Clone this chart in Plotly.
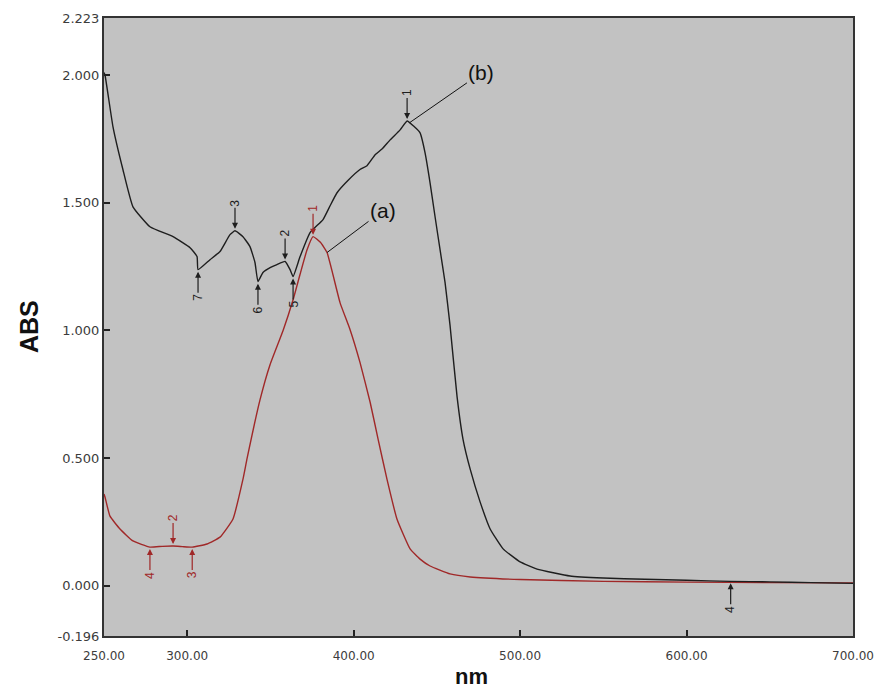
import numpy as np
import plotly.graph_objects as go

# Curve (b) - black
black_nm = [250, 250.6, 255.4, 261.4, 267.4, 277.6, 291.5, 301.7, 305.9, 306.5, 313.7, 319.7,
            325.7, 328.7, 333.5, 337.7, 340.7, 342.5, 345.5, 349.8, 353.9, 358.8, 361.8, 363.6,
            367.8, 373.8, 381.6, 386, 390, 397, 403.8, 408, 412.9, 417, 421.9, 427.9, 432.1,
            436, 439.9, 442.9, 445.9, 448.9, 451.9, 454.9, 457.9, 462.1, 465.7, 470, 476, 482,
            489.8, 500, 510.2, 530, 549.9, 575, 600, 626.5, 650, 675, 700]
black_abs = [2.01, 2.00, 1.797, 1.629, 1.484, 1.406, 1.367, 1.324, 1.289, 1.238, 1.277, 1.309,
             1.375, 1.39, 1.367, 1.328, 1.266, 1.191, 1.227, 1.246, 1.258, 1.27, 1.238, 1.211,
             1.289, 1.383, 1.434, 1.49, 1.539, 1.59, 1.63, 1.645, 1.688, 1.71, 1.746, 1.785, 1.82,
             1.80, 1.773, 1.695, 1.578, 1.445, 1.316, 1.188, 1.02, 0.742, 0.574, 0.457, 0.328, 0.223,
             0.145, 0.094, 0.066, 0.039, 0.031, 0.026, 0.022, 0.018, 0.016, 0.013, 0.010]

# Curve (a) - red
red_nm = [250, 250.6, 253.6, 259.6, 267.4, 277.6, 285, 291.5, 297, 303, 311.9, 319.7, 327.5,
          333.5, 336, 343.8, 349.8, 357.6, 363.6, 367.8, 372, 375.6, 380, 384, 391.8, 397.8,
          403.8, 409.9, 414.7, 420, 426, 433.9, 439.9, 445.9, 457.9, 470, 500, 550, 600, 650, 700]
red_abs = [0.36, 0.348, 0.273, 0.223, 0.176, 0.152, 0.155, 0.156, 0.154, 0.152, 0.164, 0.191,
           0.262, 0.418, 0.50, 0.73, 0.867, 1.0, 1.12, 1.22, 1.316, 1.367, 1.345, 1.305, 1.109,
           1.004, 0.875, 0.719, 0.574, 0.418, 0.262, 0.145, 0.105, 0.078, 0.047, 0.035, 0.025,
           0.018, 0.015, 0.013, 0.012]

# Peak / valley markers
black_peak_nm = [432.1, 328.7, 358.8]
black_peak_lbl = ["1", "3", "2"]
black_valley_nm = [306.5, 342.5, 363.6, 626.5]
black_valley_lbl = ["7", "6", "5", "4"]
red_peak_nm = [375.6, 291.5]
red_peak_lbl = ["1", "2"]
red_valley_nm = [277.6, 303.0]
red_valley_lbl = ["4", "3"]

x_ticks = [250, 300, 400, 500, 600, 700]
x_ticktext = ["250.00", "300.00", "400.00", "500.00", "600.00", "700.00"]
y_ticks = [-0.196, 0.0, 0.5, 1.0, 1.5, 2.0, 2.223]
y_ticktext = ["-0.196", "0.000", "0.500", "1.000", "1.500", "2.000", "2.223"]

BLACK = "#1e1e1e"
RED = "#a02828"
FONT = "Liberation Sans, Arial"
TICKFONT = "DejaVu Sans, Verdana"

fig = go.Figure()
fig.add_trace(go.Scatter(x=red_nm, y=red_abs, mode="lines",
                         line=dict(color=RED, width=1.4, shape="spline", smoothing=0.4),
                         name="(a)", showlegend=False))
fig.add_trace(go.Scatter(x=black_nm, y=black_abs, mode="lines",
                         line=dict(color=BLACK, width=1.4, shape="spline", smoothing=0.4),
                         name="(b)", showlegend=False))

annotations = []


def add_marks(nms, lbls, xs, ys, color, offset):
    for nm, lbl in zip(nms, lbls):
        yv = float(np.interp(nm, xs, ys))
        annotations.append(dict(
            x=nm, y=yv, xref="x", yref="y", text=lbl, textangle=-90,
            showarrow=True, ax=0, ay=offset, arrowhead=2, arrowsize=1,
            arrowwidth=1.2, arrowcolor=color, standoff=2,
            font=dict(size=12, color=color, family=FONT)))


add_marks(black_peak_nm, black_peak_lbl, black_nm, black_abs, BLACK, -28)
add_marks(black_valley_nm, black_valley_lbl, black_nm, black_abs, BLACK, 28)
add_marks(red_peak_nm, red_peak_lbl, red_nm, red_abs, RED, -28)
add_marks(red_valley_nm, red_valley_lbl, red_nm, red_abs, RED, 28)

# curve labels
annotations.append(dict(x=384, y=float(np.interp(384, red_nm, red_abs)), xref="x", yref="y",
                        text="(a)", showarrow=True, ax=56, ay=-42, arrowhead=0,
                        arrowwidth=1, arrowcolor="#111",
                        font=dict(size=21, color="#111", family=FONT)))
annotations.append(dict(x=433.5, y=float(np.interp(433.5, black_nm, black_abs)), xref="x", yref="y",
                        text="(b)", showarrow=True, ax=72, ay=-50, arrowhead=0,
                        arrowwidth=1, arrowcolor="#111",
                        font=dict(size=21, color="#111", family=FONT)))

# axis titles
annotations.append(dict(x=-0.1, y=0.5, xref="paper", yref="paper", text="<b>ABS</b>",
                        textangle=-90, showarrow=False, xanchor="center", yanchor="middle",
                        font=dict(size=25, color="#111", family=FONT)))
annotations.append(dict(x=0.49, y=-0.066, xref="paper", yref="paper", text="<b>nm</b>",
                        showarrow=False, xanchor="center", yanchor="middle",
                        font=dict(size=22, color="#111", family=FONT)))

fig.update_layout(
    width=875, height=693,
    margin=dict(l=104, r=22, t=18, b=57, autoexpand=False),
    paper_bgcolor="white", plot_bgcolor="#c2c2c2",
    annotations=annotations,
    font=dict(family=FONT, color="#333"),
)
fig.update_xaxes(range=[250, 700], tickvals=x_ticks, ticktext=x_ticktext,
                 ticks="inside", ticklen=6, tickwidth=1.5, tickcolor="#222",
                 showgrid=False, zeroline=False, showline=True, linecolor="#333",
                 linewidth=2, mirror=True, automargin=False, ticklabelstandoff=8,
                 ticklabeloverflow="allow",
                 tickfont=dict(size=12, color="#3c3c3c", family=TICKFONT))
fig.update_yaxes(range=[-0.196, 2.223], tickvals=y_ticks, ticktext=y_ticktext,
                 ticks="inside", ticklen=6, tickwidth=1.5, tickcolor="#222",
                 showgrid=False, zeroline=False, showline=True, linecolor="#333",
                 linewidth=2, mirror=True, automargin=False, ticklabeloverflow="allow",
                 tickfont=dict(size=13, color="#3c3c3c", family=TICKFONT))

fig.write_html("out.html")
